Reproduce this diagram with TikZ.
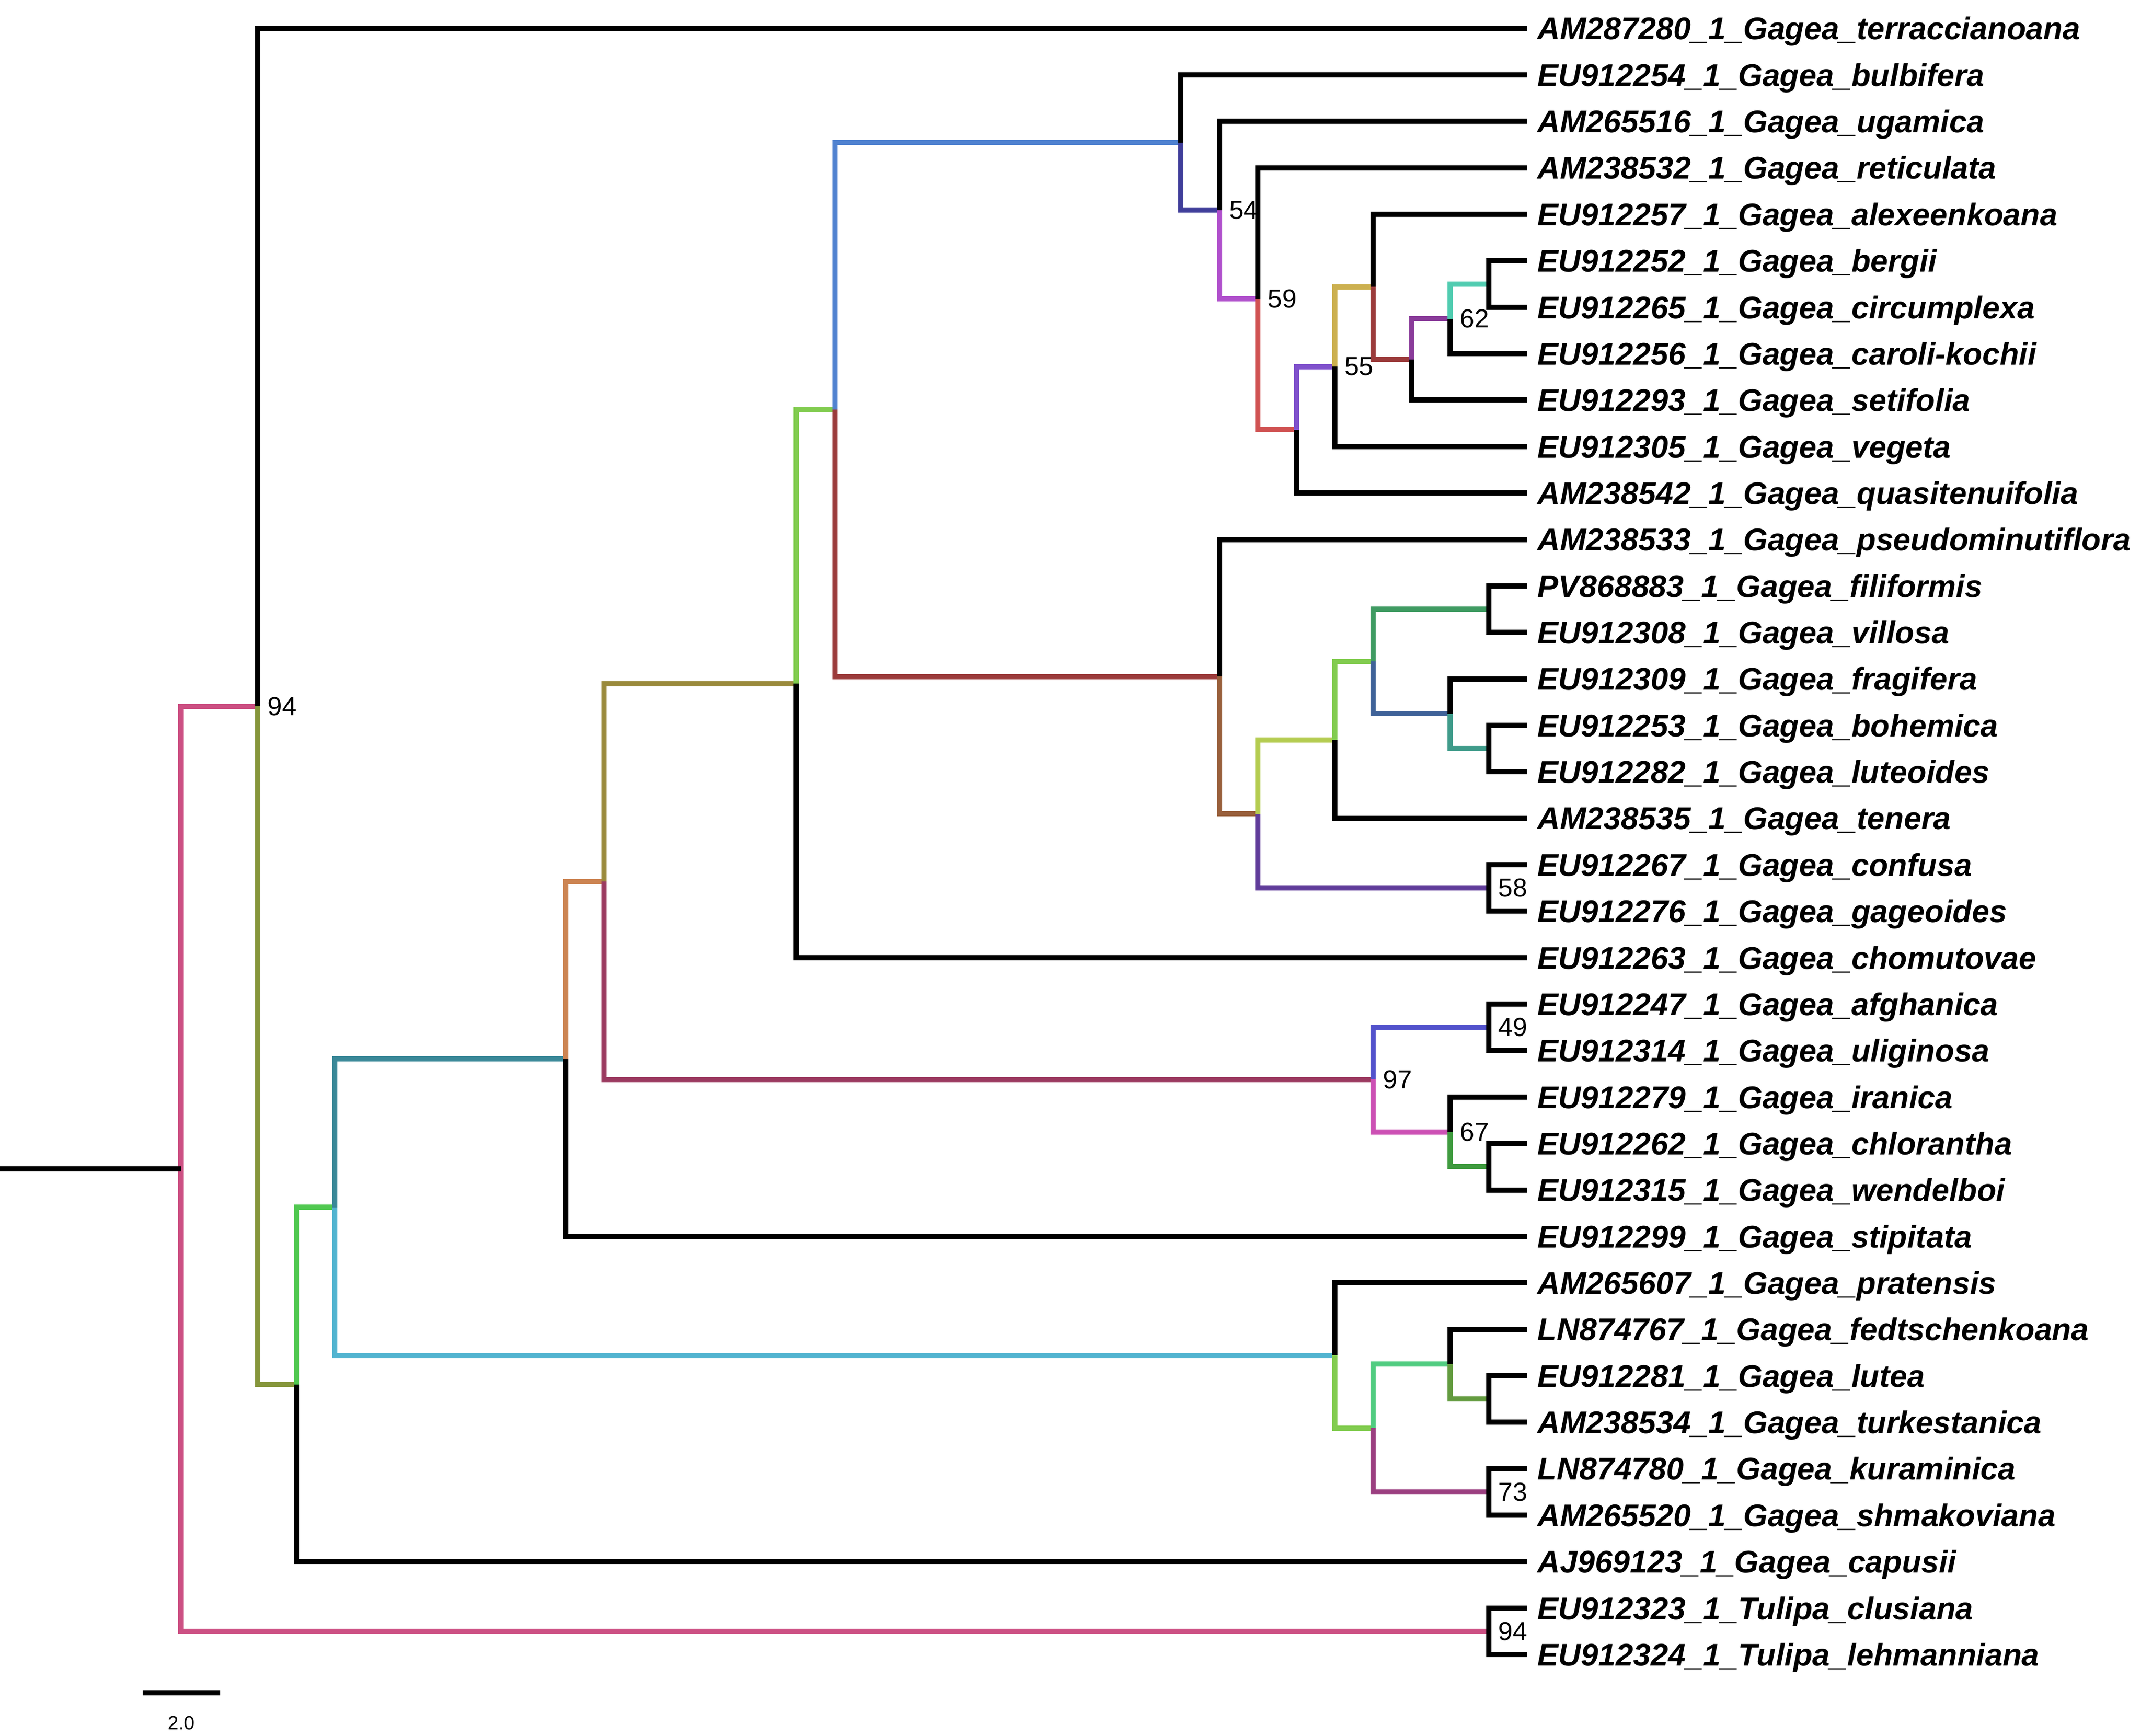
\documentclass[tikz,border=0pt]{standalone}
\usepackage{fontspec}
\setmainfont{Liberation Sans}
\definecolor{cR}{HTML}{CC5083}
\definecolor{cA}{HTML}{86963C}
\definecolor{cB}{HTML}{50C850}
\definecolor{cC}{HTML}{3A8898}
\definecolor{cD}{HTML}{52B4D0}
\definecolor{cE}{HTML}{CC8452}
\definecolor{cF}{HTML}{9A8A3C}
\definecolor{cG}{HTML}{9B3A60}
\definecolor{cH}{HTML}{82CC50}
\definecolor{cI}{HTML}{5082D0}
\definecolor{cJ}{HTML}{9B3B3B}
\definecolor{cK}{HTML}{403E9A}
\definecolor{cL}{HTML}{B050CC}
\definecolor{cM}{HTML}{D05252}
\definecolor{cN}{HTML}{8052CC}
\definecolor{cO}{HTML}{CCB050}
\definecolor{cP}{HTML}{9B3B3B}
\definecolor{cQ}{HTML}{8A3C9A}
\definecolor{cS}{HTML}{50CCB0}
\definecolor{cU}{HTML}{99603C}
\definecolor{cV}{HTML}{B4CC50}
\definecolor{cW}{HTML}{603C9A}
\definecolor{cX}{HTML}{82CC50}
\definecolor{cY}{HTML}{3F9B62}
\definecolor{cZ}{HTML}{3F6298}
\definecolor{cAA}{HTML}{3F9B8A}
\definecolor{cBB}{HTML}{5252CC}
\definecolor{cCC}{HTML}{CC50B4}
\definecolor{cDD}{HTML}{3F9B3F}
\definecolor{cEE}{HTML}{82CC50}
\definecolor{cFF}{HTML}{50CC80}
\definecolor{cGG}{HTML}{9B3F80}
\definecolor{cHH}{HTML}{639B3F}
\begin{document}
\begin{tikzpicture}[x=1pt,y=-1pt,
  br/.style={line width=3.8pt},
  tiplab/.style={anchor=base west, inner sep=0pt, font=\fontsize{22.9}{27}\selectfont\bfseries\itshape, xshift=7.4pt, yshift=-8.2pt},
  boot/.style={anchor=west, inner sep=0pt, font=\fontsize{19}{22}\selectfont, xshift=7pt}]
\useasboundingbox (0,0) rectangle (1562,1266.6);
\begin{scope}[shift={(132,20.7)}, x=28.06pt, y=-33.9pt]
% tips
\foreach \i in {0,...,35} {\coordinate (t\i) at (35,\i);}
% internal nodes
\coordinate (r0) at (-4.704,24.546516);
\coordinate (R) at (0,24.546516);
\coordinate (T) at (34,34.5);
\coordinate (N94) at (2,14.593033);
\coordinate (A) at (3,29.186066);
\coordinate (B) at (4,25.372131);
\coordinate (C) at (10,22.181763);
\coordinate (D) at (30,28.5625);
\coordinate (E) at (11,18.363525);
\coordinate (F) at (16,14.102051);
\coordinate (G) at (31,22.625);
\coordinate (H) at (17,8.204102);
\coordinate (I) at (26,2.455078);
\coordinate (J) at (27,13.953125);
\coordinate (K) at (27,3.910156);
\coordinate (L) at (28,5.820313);
\coordinate (M) at (29,8.640625);
\coordinate (N) at (30,7.28125);
\coordinate (O) at (31,5.5625);
\coordinate (P) at (32,7.125);
\coordinate (Q) at (33,6.25);
\coordinate (S) at (34,5.5);
\coordinate (U) at (28,16.90625);
\coordinate (V) at (30,15.3125);
\coordinate (W) at (34,18.5);
\coordinate (X) at (31,13.625);
\coordinate (Y) at (34,12.5);
\coordinate (Z) at (33,14.75);
\coordinate (AA) at (34,15.5);
\coordinate (BB) at (34,21.5);
\coordinate (CC) at (33,23.75);
\coordinate (DD) at (34,24.5);
\coordinate (EE) at (31,30.125);
\coordinate (FF) at (33,28.75);
\coordinate (GG) at (34,31.5);
\coordinate (HH) at (34,29.5);
% coloured branches
\draw[br,cR] (R) |- (N94);  \draw[br,cR] (R) |- (T);
\draw[br,cA] (N94) |- (A);
\draw[br,cB] (A) |- (B);
\draw[br,cC] (B) |- (C);    \draw[br,cD] (B) |- (D);
\draw[br,cE] (C) |- (E);
\draw[br,cF] (E) |- (F);    \draw[br,cG] (E) |- (G);
\draw[br,cH] (F) |- (H);
\draw[br,cI] (H) |- (I);    \draw[br,cJ] (H) |- (J);
\draw[br,cK] (I) |- (K);
\draw[br,cL] (K) |- (L);
\draw[br,cM] (L) |- (M);
\draw[br,cN] (M) |- (N);
\draw[br,cO] (N) |- (O);
\draw[br,cP] (O) |- (P);
\draw[br,cQ] (P) |- (Q);
\draw[br,cS] (Q) |- (S);
\draw[br,cU] (J) |- (U);
\draw[br,cV] (U) |- (V);    \draw[br,cW] (U) |- (W);
\draw[br,cX] (V) |- (X);
\draw[br,cY] (X) |- (Y);    \draw[br,cZ] (X) |- (Z);
\draw[br,cAA] (Z) |- (AA);
\draw[br,cBB] (G) |- (BB);  \draw[br,cCC] (G) |- (CC);
\draw[br,cDD] (CC) |- (DD);
\draw[br,cEE] (D) |- (EE);
\draw[br,cFF] (EE) |- (FF); \draw[br,cGG] (EE) |- (GG);
\draw[br,cHH] (FF) |- (HH);
% black branches to tips
\draw[br,black] (r0) -- (R);
\draw[br,black] (N94) |- (t0);
\draw[br,black] (I) |- (t1);
\draw[br,black] (K) |- (t2);
\draw[br,black] (L) |- (t3);
\draw[br,black] (O) |- (t4);
\draw[br,black] (S) |- (t5);   \draw[br,black] (S) |- (t6);
\draw[br,black] (Q) |- (t7);
\draw[br,black] (P) |- (t8);
\draw[br,black] (N) |- (t9);
\draw[br,black] (M) |- (t10);
\draw[br,black] (J) |- (t11);
\draw[br,black] (Y) |- (t12);  \draw[br,black] (Y) |- (t13);
\draw[br,black] (Z) |- (t14);
\draw[br,black] (AA) |- (t15); \draw[br,black] (AA) |- (t16);
\draw[br,black] (V) |- (t17);
\draw[br,black] (W) |- (t18);  \draw[br,black] (W) |- (t19);
\draw[br,black] (F) |- (t20);
\draw[br,black] (BB) |- (t21); \draw[br,black] (BB) |- (t22);
\draw[br,black] (CC) |- (t23);
\draw[br,black] (DD) |- (t24); \draw[br,black] (DD) |- (t25);
\draw[br,black] (C) |- (t26);
\draw[br,black] (D) |- (t27);
\draw[br,black] (FF) |- (t28);
\draw[br,black] (HH) |- (t29); \draw[br,black] (HH) |- (t30);
\draw[br,black] (GG) |- (t31); \draw[br,black] (GG) |- (t32);
\draw[br,black] (A) |- (t33);
\draw[br,black] (T) |- (t34);  \draw[br,black] (T) |- (t35);
% bootstrap values
\node[boot] (bN94) at (N94) {94};
\node[boot] (bK) at (K) {54};
\node[boot] (bL) at (L) {59};
\node[boot] (bN) at (N) {55};
\node[boot] (bQ) at (Q) {62};
\node[boot] (bW) at (W) {58};
\node[boot] (bG) at (G) {97};
\node[boot] (bBB) at (BB) {49};
\node[boot] (bCC) at (CC) {67};
\node[boot] (bGG) at (GG) {73};
\node[boot] (bT) at (T) {94};
% tip labels
\node[tiplab] (l0) at (t0) {AM287280\_1\_Gagea\_terraccianoana};
\node[tiplab] (l1) at (t1) {EU912254\_1\_Gagea\_bulbifera};
\node[tiplab] (l2) at (t2) {AM265516\_1\_Gagea\_ugamica};
\node[tiplab] (l3) at (t3) {AM238532\_1\_Gagea\_reticulata};
\node[tiplab] (l4) at (t4) {EU912257\_1\_Gagea\_alexeenkoana};
\node[tiplab] (l5) at (t5) {EU912252\_1\_Gagea\_bergii};
\node[tiplab] (l6) at (t6) {EU912265\_1\_Gagea\_circumplexa};
\node[tiplab] (l7) at (t7) {EU912256\_1\_Gagea\_caroli-kochii};
\node[tiplab] (l8) at (t8) {EU912293\_1\_Gagea\_setifolia};
\node[tiplab] (l9) at (t9) {EU912305\_1\_Gagea\_vegeta};
\node[tiplab] (l10) at (t10) {AM238542\_1\_Gagea\_quasitenuifolia};
\node[tiplab] (l11) at (t11) {AM238533\_1\_Gagea\_pseudominutiflora};
\node[tiplab] (l12) at (t12) {PV868883\_1\_Gagea\_filiformis};
\node[tiplab] (l13) at (t13) {EU912308\_1\_Gagea\_villosa};
\node[tiplab] (l14) at (t14) {EU912309\_1\_Gagea\_fragifera};
\node[tiplab] (l15) at (t15) {EU912253\_1\_Gagea\_bohemica};
\node[tiplab] (l16) at (t16) {EU912282\_1\_Gagea\_luteoides};
\node[tiplab] (l17) at (t17) {AM238535\_1\_Gagea\_tenera};
\node[tiplab] (l18) at (t18) {EU912267\_1\_Gagea\_confusa};
\node[tiplab] (l19) at (t19) {EU912276\_1\_Gagea\_gageoides};
\node[tiplab] (l20) at (t20) {EU912263\_1\_Gagea\_chomutovae};
\node[tiplab] (l21) at (t21) {EU912247\_1\_Gagea\_afghanica};
\node[tiplab] (l22) at (t22) {EU912314\_1\_Gagea\_uliginosa};
\node[tiplab] (l23) at (t23) {EU912279\_1\_Gagea\_iranica};
\node[tiplab] (l24) at (t24) {EU912262\_1\_Gagea\_chlorantha};
\node[tiplab] (l25) at (t25) {EU912315\_1\_Gagea\_wendelboi};
\node[tiplab] (l26) at (t26) {EU912299\_1\_Gagea\_stipitata};
\node[tiplab] (l27) at (t27) {AM265607\_1\_Gagea\_pratensis};
\node[tiplab] (l28) at (t28) {LN874767\_1\_Gagea\_fedtschenkoana};
\node[tiplab] (l29) at (t29) {EU912281\_1\_Gagea\_lutea};
\node[tiplab] (l30) at (t30) {AM238534\_1\_Gagea\_turkestanica};
\node[tiplab] (l31) at (t31) {LN874780\_1\_Gagea\_kuraminica};
\node[tiplab] (l32) at (t32) {AM265520\_1\_Gagea\_shmakoviana};
\node[tiplab] (l33) at (t33) {AJ969123\_1\_Gagea\_capusii};
\node[tiplab] (l34) at (t34) {EU912323\_1\_Tulipa\_clusiana};
\node[tiplab] (l35) at (t35) {EU912324\_1\_Tulipa\_lehmanniana};
\end{scope}
% scale bar
\coordinate (sb1) at (104.2,1235);
\coordinate (sb2) at (160.5,1235);
\draw[line width=3.6pt] (sb1) -- (sb2);
\node[inner sep=0pt, font=\fontsize{14}{16}\selectfont] (sbl) at (132.4,1257) {2.0};
\end{tikzpicture}
\end{document}
